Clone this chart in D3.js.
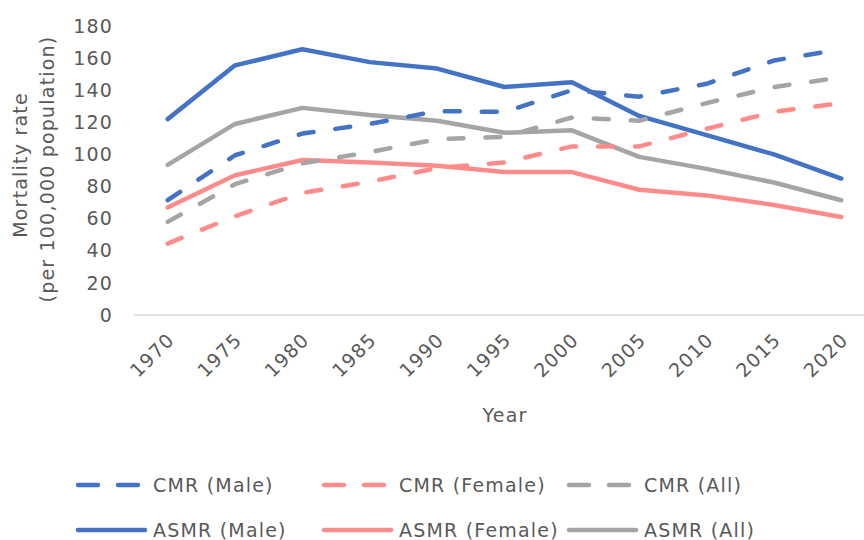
<!DOCTYPE html>
<html>
<head>
<meta charset="utf-8">
<script src="https://cdn.jsdelivr.net/npm/d3@7"></script>
<style>
  body { margin: 0; background: #fff; }
  svg text { font-family: "DejaVu Sans", sans-serif; fill: #595959; letter-spacing: 1.2px; }
</style>
</head>
<body>
<div id="chart"></div>
<script>
// data
var years = [1970, 1975, 1980, 1985, 1990, 1995, 2000, 2005, 2010, 2015, 2020];
var yTicks = [0, 20, 40, 60, 80, 100, 120, 140, 160, 180];

var cmrMale   = [71.5, 99.5, 113, 119, 127, 126.5, 140, 136, 144, 158.5, 165.5];
var cmrFemale = [44.5, 61.5, 76, 83, 91.5, 95, 105, 105, 116, 126.5, 132];
var cmrAll    = [58, 81.5, 94.5, 101.5, 109.5, 111, 123, 121, 132, 142, 148];
var asmrMale   = [122, 155.5, 165.5, 157.5, 153.5, 142, 145, 124, 112, 100, 85];
var asmrFemale = [67, 87, 96.5, 95, 93, 89, 89, 78, 74.5, 68.5, 61];
var asmrAll    = [93.5, 119, 129, 124.5, 121, 113.5, 115, 98.5, 91, 82.5, 71.5];

var seriesNames = ['CMR (Male)', 'CMR (Female)', 'CMR (All)', 'ASMR (Male)', 'ASMR (Female)', 'ASMR (All)'];
var seriesValues = [cmrMale, cmrFemale, cmrAll, asmrMale, asmrFemale, asmrAll];
var seriesColors = ['#4472C4', '#FF8B8B', '#A5A5A5', '#4472C4', '#FF8B8B', '#A5A5A5'];
var seriesDashed = [true, true, true, false, false, false];

var W = 864, H = 540;
var fs = 19;

var svg = d3.select('#chart').append('svg').attr('width', W).attr('height', H);

var x = d3.scalePoint().domain(years).range([134, 875]).padding(0.5);
var y = d3.scaleLinear().domain([0, 180]).range([315, 26]);

// x axis baseline
svg.append('line')
  .attr('x1', 134).attr('x2', W)
  .attr('y1', y(0)).attr('y2', y(0))
  .style('stroke', '#D9D9D9').style('stroke-width', 1.5);

// y tick labels
svg.selectAll('.ytick')
  .data(yTicks)
  .enter()
  .append('text')
  .attr('class', 'ytick')
  .attr('x', 113)
  .attr('y', function(d) { return y(d); })
  .attr('dy', '0.35em')
  .attr('text-anchor', 'end')
  .style('font-size', fs + 'px')
  .text(function(d) { return d; });

// x tick labels (rotated)
svg.selectAll('.xtick')
  .data(years)
  .enter()
  .append('text')
  .attr('class', 'xtick')
  .attr('text-anchor', 'end')
  .attr('transform', function(d) { return 'translate(' + (x(d) + 8) + ',' + 341 + ') rotate(-45)'; })
  .style('font-size', fs + 'px')
  .text(function(d) { return d; });

// axis titles
svg.append('text')
  .attr('x', 505).attr('y', 415).attr('dy', '0.35em')
  .attr('text-anchor', 'middle')
  .style('font-size', fs + 'px')
  .text('Year');

svg.append('text')
  .attr('transform', 'translate(20,165) rotate(-90)')
  .attr('dy', '0.35em')
  .attr('text-anchor', 'middle')
  .style('font-size', fs + 'px')
  .text('Mortality rate');

svg.append('text')
  .attr('transform', 'translate(47,169) rotate(-90)')
  .attr('dy', '0.35em')
  .attr('text-anchor', 'middle')
  .style('font-size', fs + 'px')
  .text('(per 100,000 population)');

// lines
var line = d3.line()
  .x(function(d, i) { return x(years[i]); })
  .y(function(d) { return y(d); });

// solid first, dashed on top
var order = [3, 4, 5, 0, 1, 2];
order.forEach(function(k) {
  svg.append('path')
    .datum(seriesValues[k])
    .attr('d', line)
    .style('fill', 'none')
    .style('stroke', seriesColors[k])
    .style('stroke-width', 4.5)
    .style('stroke-linejoin', 'round')
    .style('stroke-linecap', 'round')
    .style('stroke-dasharray', seriesDashed[k] ? '15,22' : null);
});

// legend
var legX = [78, 324, 569];
var legY = [485, 530];
var leg = svg.selectAll('.leg')
  .data(seriesNames)
  .enter()
  .append('g')
  .attr('class', 'leg')
  .attr('transform', function(d, i) { return 'translate(' + legX[i % 3] + ',' + legY[Math.floor(i / 3)] + ')'; });

leg.append('line')
  .attr('x1', 0).attr('x2', 67)
  .attr('y1', 0).attr('y2', 0)
  .style('stroke', function(d, i) { return seriesColors[i]; })
  .style('stroke-width', 4.5)
  .style('stroke-linecap', 'round')
  .style('stroke-dasharray', function(d, i) { return seriesDashed[i] ? '20,20' : null; });

leg.append('text')
  .attr('x', 75)
  .attr('dy', '0.35em')
  .style('font-size', fs + 'px')
  .text(function(d) { return d; });
</script>
</body>
</html>
